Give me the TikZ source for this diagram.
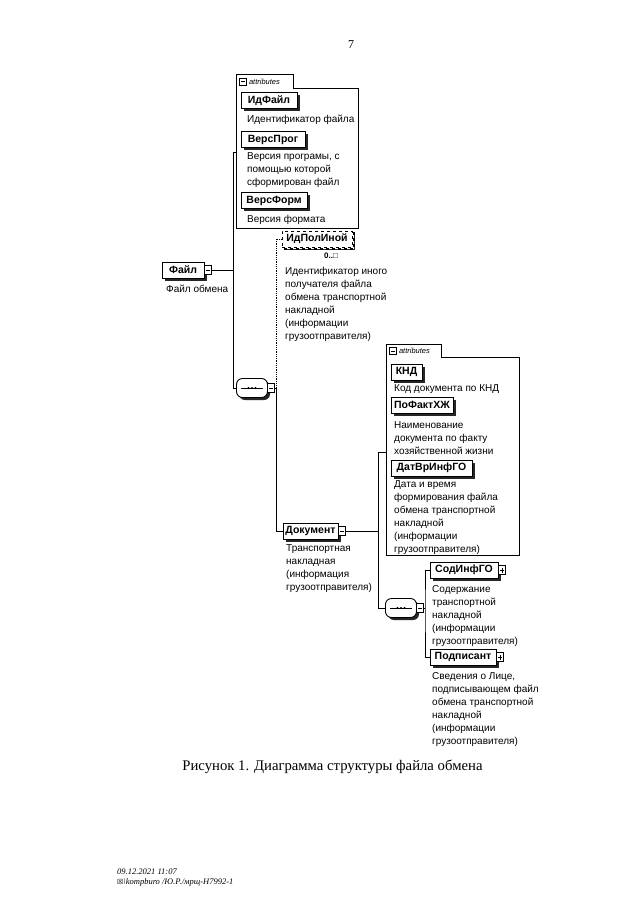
\documentclass[tikz,border=0pt]{standalone}
\usepackage{fontspec}
\setmainfont{Liberation Serif}
\newfontfamily\dsans{Liberation Sans}
\newfontfamily\dvs{DejaVu Sans}
\usetikzlibrary{shapes.misc,shadows}
\begin{document}
\begin{tikzpicture}[x=1pt,y=-1pt,
  conn/.style={line width=0.8pt},
  elem/.style={draw, line width=0.8pt, fill=white, inner sep=0pt, minimum height=16pt,
    font=\dsans\bfseries\fontsize{10.5}{12}\selectfont,
    drop shadow={shadow xshift=2.5pt, shadow yshift=-2.5pt, fill=black!85, opacity=1}},
  optelem/.style={elem, dashed,
    drop shadow={shadow xshift=2pt, shadow yshift=-2pt, fill=white, draw=black, dashed, line width=1.6pt, opacity=1}},
  ctrl/.style={draw, line width=0.8pt, fill=white, inner sep=0pt, minimum width=7pt, minimum height=9pt},
  seqn/.style={rectangle, rounded corners=6pt, draw, line width=0.9pt, fill=white, inner sep=0pt,
    minimum width=31pt, minimum height=19pt,
    drop shadow={shadow xshift=2.5pt, shadow yshift=-2.5pt, fill=black!85, opacity=1}},
  attrbox/.style={inner sep=0pt},
  tabtxt/.style={inner sep=0pt, font=\dsans\itshape\fontsize{7.5}{9}\selectfont},
  desc/.style={anchor=north west, inner sep=0pt, align=left, font=\dsans\fontsize{10}{13}\selectfont},
  capt/.style={inner sep=0pt, font=\fontsize{14.7}{17}\selectfont},
  foot/.style={inner sep=0pt, anchor=west, font=\itshape\fontsize{8.5}{10}\selectfont}
]
\fill[white] (0,0) rectangle (640,905);
\useasboundingbox (0,0) rectangle (640,905);

\node[inner sep=0pt, font=\fontsize{12}{14}\selectfont] (pg) at (351,45) {7};

% ---------- attributes box 1
\node[attrbox, minimum width=121pt, minimum height=139pt] (a1) at (297.5,158.5) {};
\node[attrbox, minimum width=56pt, minimum height=14pt, anchor=south west] (a1tab) at (a1.north west) {};
\draw[line width=0.8pt] (a1.south west) -- (a1tab.north west) -- (a1tab.north east) -- (a1tab.south east) -- (a1.north east) -- (a1.south east) -- cycle;
\node[draw, line width=0.7pt, inner sep=0pt, minimum width=7pt, minimum height=7pt] (a1m) at ([xshift=6.5pt]a1tab.west) {};
\draw[line width=0.7pt] ([xshift=-2pt]a1m.center) -- ([xshift=2pt]a1m.center);
\node[tabtxt, anchor=west] (a1t) at ([xshift=12pt]a1tab.west) {attributes};

\node[elem, minimum width=56pt] (idf) at (269,100.5) {ИдФайл};
\node[desc] (idfd) at (247,115) {Идентификатор файла};
\node[elem, minimum width=64pt] (vp) at (273,139.5) {ВерсПрог};
\node[desc] (vpd) at (247,152) {Версия програмы, с\\помощью которой\\сформирован файл};
\node[elem, minimum width=66pt] (vf) at (274,200.5) {ВерсФорм};
\node[desc] (vfd) at (247,215) {Версия формата};

% ---------- root
\node[elem, minimum width=42pt] (file) at (183,270) {Файл};
\node[ctrl] (filem) at (207.5,270) {};
\draw[line width=0.7pt] ([xshift=-2pt]filem.center) -- ([xshift=2pt]filem.center);
\node[desc] (filed) at (166,285) {Файл обмена};

% ---------- sequence 1
\node[seqn] (seq1) at (252,388) {};
\draw[line width=0.7pt] ([xshift=5pt]seq1.west) -- ([xshift=-5pt]seq1.east);
\fill (seq1.center) circle (1.1pt) ([xshift=-3.5pt]seq1.center) circle (1.1pt) ([xshift=3.5pt]seq1.center) circle (1.1pt);
\node[ctrl] (seq1m) at (271,388) {};
\draw[line width=0.7pt] ([xshift=-2pt]seq1m.center) -- ([xshift=2pt]seq1m.center);

\coordinate (t1) at (233,152);
\draw[conn] (filem.east) -- (filem.east -| t1);
\draw[conn] (seq1.west) -| (t1) -- (t1 -| a1.west);

% ---------- optional element
\node[optelem, minimum width=70pt] (idp) at (317,239) {ИдПолИной};
\node[inner sep=0pt, font=\dsans\bfseries\fontsize{8}{9}\selectfont] (occ) at (331,256) {0..□};
\node[desc] (idpd) at (285,267) {Идентификатор иного\\получателя файла\\обмена транспортной\\накладной\\(информации\\грузоотправителя)};

% ---------- Документ
\node[elem, minimum width=55pt] (doc) at (310.5,531) {Документ};
\node[ctrl] (docm) at (341.5,531) {};
\draw[line width=0.7pt] ([xshift=-2pt]docm.center) -- ([xshift=2pt]docm.center);
\node[desc] (docd) at (286,544) {Транспортная\\накладная\\(информация\\грузоотправителя)};

\coordinate (t2a) at (276,239);
\coordinate (t2b) at (276,531);
\draw[conn, densely dotted] (seq1m.east) -| (t2a) -- (idp.west);
\draw[conn] (seq1m.east) -| (t2b) -- (doc.west);

% ---------- attributes box 2
\node[attrbox, minimum width=132pt, minimum height=197pt] (a2) at (453,456.5) {};
\node[attrbox, minimum width=54pt, minimum height=13pt, anchor=south west] (a2tab) at (a2.north west) {};
\draw[line width=0.8pt] (a2.south west) -- (a2tab.north west) -- (a2tab.north east) -- (a2tab.south east) -- (a2.north east) -- (a2.south east) -- cycle;
\node[draw, line width=0.7pt, inner sep=0pt, minimum width=7pt, minimum height=7pt] (a2m) at ([xshift=6.5pt]a2tab.west) {};
\draw[line width=0.7pt] ([xshift=-2pt]a2m.center) -- ([xshift=2pt]a2m.center);
\node[tabtxt, anchor=west] (a2t) at ([xshift=12pt]a2tab.west) {attributes};

\node[elem, minimum width=31pt] (knd) at (406.5,372) {КНД};
\node[desc] (kndd) at (394,384) {Код документа по КНД};
\node[elem, minimum width=62pt] (pf) at (422,405) {ПоФактХЖ};
\node[desc] (pfd) at (394,421) {Наименование\\документа по факту\\хозяйственной жизни};
\node[elem, minimum width=81pt] (dv) at (431.5,468) {ДатВрИнфГО};
\node[desc] (dvd) at (394,480) {Дата и время\\формирования файла\\обмена транспортной\\накладной\\(информации\\грузоотправителя)};

% ---------- sequence 2
\node[seqn] (seq2) at (401,608) {};
\draw[line width=0.7pt] ([xshift=5pt]seq2.west) -- ([xshift=-5pt]seq2.east);
\fill (seq2.center) circle (1.1pt) ([xshift=-3.5pt]seq2.center) circle (1.1pt) ([xshift=3.5pt]seq2.center) circle (1.1pt);
\node[ctrl] (seq2m) at (420,608) {};
\draw[line width=0.7pt] ([xshift=-2pt]seq2m.center) -- ([xshift=2pt]seq2m.center);

\coordinate (t3) at (378,452);
\draw[conn] (docm.east) -- (docm.east -| t3);
\draw[conn] (seq2.west) -| (t3) -- (t3 -| a2.west);

% ---------- children of sequence 2
\node[elem, minimum width=68pt] (sod) at (464,570) {СодИнфГО};
\node[ctrl] (sodp) at (502,570) {};
\draw[line width=0.7pt] ([xshift=-2pt]sodp.center) -- ([xshift=2pt]sodp.center) ([yshift=-2.5pt]sodp.center) -- ([yshift=2.5pt]sodp.center);
\node[desc] (sodd) at (432,585) {Содержание\\транспортной\\накладной\\(информации\\грузоотправителя)};

\node[elem, minimum width=66pt] (podp) at (463,657) {Подписант};
\node[ctrl] (podpp) at (500,657) {};
\draw[line width=0.7pt] ([xshift=-2pt]podpp.center) -- ([xshift=2pt]podpp.center) ([yshift=-2.5pt]podpp.center) -- ([yshift=2.5pt]podpp.center);
\node[desc] (podpd) at (432,672) {Сведения о Лице,\\подписывающем файл\\обмена транспортной\\накладной\\(информации\\грузоотправителя)};

\coordinate (t4) at (425,608);
\draw[conn] (seq2m.east) -- (t4);
\draw[conn] (sod.west) -| (t4) |- (podp.west);

% ---------- caption and footer
\node[capt] (cap) at (332.5,767) {Рисунок 1. Диаграмма структуры файла обмена};
\node[foot] (f1) at (117,872) {09.12.2021 11:07};
\node[foot] (f2) at (117,882) {{\dvs\fontsize{7}{8}\selectfont ☒}\textbackslash kompburo /Ю.Р./мрщ-Н7992-1};
\end{tikzpicture}
\end{document}
